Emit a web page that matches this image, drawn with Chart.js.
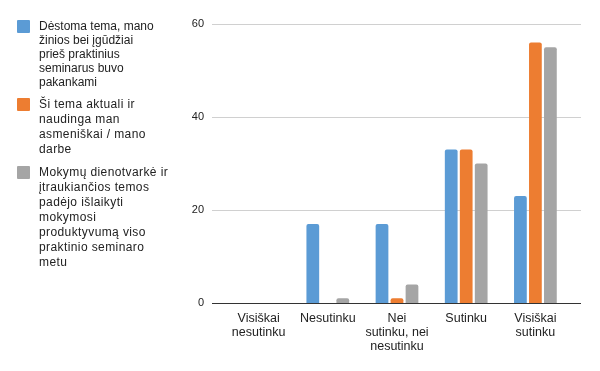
<!DOCTYPE html>
<html>
<head>
<meta charset="utf-8">
<script src="https://cdn.jsdelivr.net/npm/chart.js@4.4.0/dist/chart.umd.min.js"></script>
<style>
  html, body { margin: 0; padding: 0; background: #fff; }
  #wrap { position: relative; width: 600px; height: 371px; }
  #c { position: absolute; left: 0; top: 0; }
  #legend { position: absolute; left: 17px; top: 19px; font-family: "Liberation Sans", Arial, sans-serif; font-size: 12px; color: #222; }
  .item { position: relative; padding-left: 22px; margin-bottom: 8px; }
  .sw { position: absolute; left: 0; top: 1px; width: 13px; height: 13px; border-radius: 1px; }
</style>
</head>
<body>
<div id="wrap">
  <canvas id="c" width="600" height="371"></canvas>
  <div id="legend"></div>
</div>
<script>
const categories = [
  ["Visiškai", "nesutinku"],
  ["Nesutinku"],
  ["Nei", "sutinku, nei", "nesutinku"],
  ["Sutinku"],
  ["Visiškai", "sutinku"]
];
const seriesLegendLines = [
  ["Dėstoma tema, mano", "žinios bei įgūdžiai", "prieš praktinius", "seminarus buvo", "pakankami"],
  ["Ši tema aktuali ir", "naudinga man", "asmeniškai / mano", "darbe"],
  ["Mokymų dienotvarkė ir", "įtraukiančios temos", "padėjo išlaikyti", "mokymosi", "produktyvumą viso", "praktinio seminaro", "metu"]
];
const seriesA = [0, 17, 17, 33, 23];
const seriesB = [0, 0, 1, 33, 56];
const seriesC = [0, 1, 4, 30, 55];
const yTicks = [0, 20, 40, 60];
const colors = ["#5B9BD5", "#ED7D31", "#A5A5A5"];
const legendSpacing = ["0px", "0.4px", "0.4px"];
const legendLineHeight = ["14px", "15px", "15px"];

const values = [seriesA, seriesB, seriesC];
const datasets = values.map((v, i) => ({
  label: seriesLegendLines[i].join(" "),
  data: v,
  backgroundColor: colors[i],
  borderRadius: 2,
  borderSkipped: 'bottom',
  categoryPercentage: 0.65,
  barPercentage: 0.85
}));

const wideGrid = {
  id: 'wideGrid',
  beforeDatasetsDraw(chart) {
    const ctx = chart.ctx, y = chart.scales.y, a = chart.chartArea;
    ctx.save();
    yTicks.forEach(t => {
      const py = Math.round(y.getPixelForValue(t)) + 0.5;
      ctx.beginPath();
      ctx.strokeStyle = t === 0 ? '#333333' : '#d0d0d0';
      ctx.lineWidth = 1;
      ctx.moveTo(a.left - 12, py);
      ctx.lineTo(a.right + 11, py);
      ctx.stroke();
    });
    ctx.restore();
  }
};

new Chart(document.getElementById('c'), {
  type: 'bar',
  data: { labels: categories, datasets },
  options: {
    responsive: false,
    animation: false,
    layout: { padding: { left: 0, right: 30, top: 24, bottom: 0 } },
    plugins: { legend: { display: false }, tooltip: { enabled: false } },
    scales: {
      x: {
        grid: { display: false, drawTicks: false },
        border: { display: false },
        ticks: {
          autoSkip: false, maxRotation: 0, minRotation: 0, padding: 9,
          color: '#222', font: { family: '"Liberation Sans", Arial, sans-serif', size: 12.5, lineHeight: 1.12 }
        },
        afterFit(s) { s.height = 68; s.paddingLeft = 0; s.paddingRight = 0; }
      },
      y: {
        min: 0, max: 60,
        afterBuildTicks(s) { s.ticks = yTicks.map(v => ({ value: v })); },
        grid: { display: false, drawTicks: false },
        border: { display: false },
        ticks: {
          padding: 20, color: '#222',
          font: { family: '"Liberation Sans", Arial, sans-serif', size: 11 }
        },
        afterFit(s) { s.width = 224; s.paddingTop = 0; s.paddingBottom = 0; }
      }
    }
  },
  plugins: [wideGrid]
});

const lg = document.getElementById('legend');
seriesLegendLines.forEach((lines, i) => {
  const d = document.createElement('div');
  d.className = 'item';
  d.style.letterSpacing = legendSpacing[i];
  d.style.lineHeight = legendLineHeight[i];
  const sw = document.createElement('span');
  sw.className = 'sw';
  sw.style.background = colors[i];
  d.appendChild(sw);
  lines.forEach((ln, j) => {
    if (j) d.appendChild(document.createElement('br'));
    d.appendChild(document.createTextNode(ln));
  });
  lg.appendChild(d);
});
</script>
</body>
</html>
